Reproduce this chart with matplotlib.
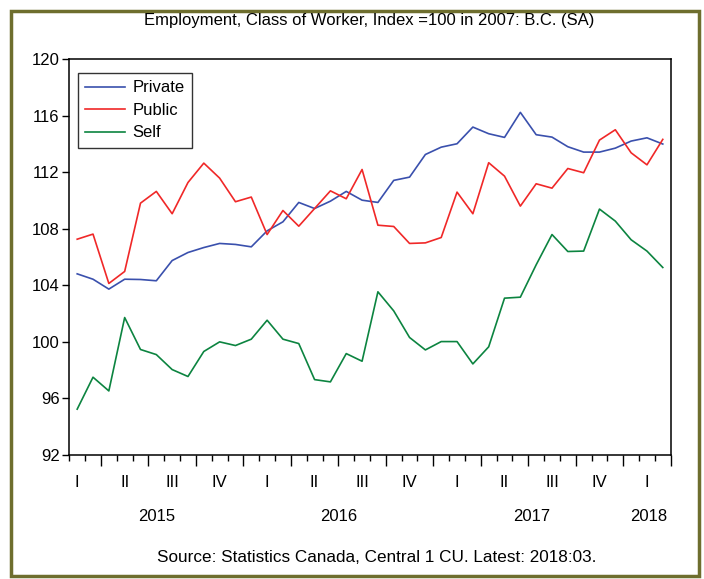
import matplotlib as mpl
mpl.use('Agg')
import matplotlib.pyplot as plt
import matplotlib.patches as patches
import numpy as np

plt.rcParams['font.family'] = ['Liberation Sans', 'DejaVu Sans']

# monthly, Feb 2015 .. Mar 2018
private = [104.81, 104.43, 103.73, 104.43, 104.41, 104.32, 105.75, 106.32, 106.67, 106.96,
           106.89, 106.72, 107.85, 108.49, 109.86, 109.43, 109.95, 110.64, 110.02, 109.86,
           111.42, 111.65, 113.25, 113.77, 114.01, 115.19, 114.72, 114.46, 116.23, 114.65,
           114.48, 113.80, 113.42, 113.42, 113.70, 114.20, 114.43, 113.99]
public = [107.26, 107.62, 104.13, 104.98, 109.81, 110.64, 109.06, 111.27, 112.64, 111.58,
          109.91, 110.24, 107.59, 109.29, 108.18, 109.43, 110.68, 110.12, 112.19, 108.25,
          108.16, 106.96, 107.00, 107.38, 110.59, 109.06, 112.67, 111.72, 109.60, 111.18,
          110.87, 112.26, 111.96, 114.27, 115.00, 113.37, 112.52, 114.32]
self_emp = [95.24, 97.50, 96.53, 101.72, 99.46, 99.10, 98.04, 97.55, 99.32, 100.00,
            99.74, 100.19, 101.53, 100.19, 99.88, 97.33, 97.17, 99.17, 98.63, 103.54,
            102.19, 100.31, 99.43, 100.02, 100.02, 98.44, 99.65, 103.09, 103.16, 105.45,
            107.59, 106.39, 106.42, 109.39, 108.54, 107.22, 106.42, 105.26]

quarter_labels = ['I', 'II', 'III', 'IV'] * 3 + ['I']
years = ['2015', '2016', '2017', '2018']
year_pos = [5, 16.5, 28.7, 36.1]

x = np.arange(len(private))

fig = plt.figure(figsize=(7.04, 5.79), dpi=100)
ax = fig.add_axes([0.0984, 0.2142, 0.8543, 0.6838])

ax.plot(x, private, color='#3a50ad', lw=1.2, label='Private')
ax.plot(x, public, color='#f02828', lw=1.2, label='Public')
ax.plot(x, self_emp, color='#0c8440', lw=1.2, label='Self')

ax.set_xlim(-0.5, len(x) - 0.5)
ax.set_ylim(92, 120)
ax.set_yticks(np.arange(92, 121, 4))
ax.tick_params(axis='y', direction='out', length=5, width=1, labelsize=12, pad=2)

# month ticks (minor), quarter boundaries (major)
ax.set_xticks(np.arange(-0.5, len(x), 1), minor=True)
ax.set_xticks(np.arange(1.5, len(x), 3))
ax.set_xticklabels([])
ax.tick_params(axis='x', which='minor', direction='out', length=4, width=1)
ax.tick_params(axis='x', which='major', direction='out', length=8, width=1)

for i, q in enumerate(quarter_labels):
    ax.text(3 * i, -0.07, q, transform=ax.get_xaxis_transform(),
            ha='center', va='center', fontsize=12)
for y, p in zip(years, year_pos):
    ax.text(p, -0.155, y, transform=ax.get_xaxis_transform(),
            ha='center', va='center', fontsize=12)

for s in ax.spines.values():
    s.set_linewidth(1.1)

leg = ax.legend(loc='upper left', bbox_to_anchor=(0.0145, 0.965), borderaxespad=0,
                fontsize=12, frameon=True, fancybox=False, handlelength=2.4,
                handletextpad=0.4, labelspacing=0.45, borderpad=0.45)
leg.get_frame().set_edgecolor('black')
leg.get_frame().set_linewidth(1.0)

fig.text(369 / 704, 1 - 20 / 579, 'Employment, Class of Worker, Index =100 in 2007: B.C. (SA)',
         ha='center', va='center', fontsize=12)
fig.text(377 / 704, 1 - 558 / 579, 'Source: Statistics Canada, Central 1 CU. Latest: 2018:03.',
         ha='center', va='center', fontsize=12.3)

fig.patches.append(patches.Rectangle((11 / 704, 1 - 576 / 579), 688 / 704, 565 / 579,
                                     transform=fig.transFigure, fill=False,
                                     edgecolor='#6e6e2e', lw=2.5))

fig.savefig('out.png', dpi=100)
plt.close()
